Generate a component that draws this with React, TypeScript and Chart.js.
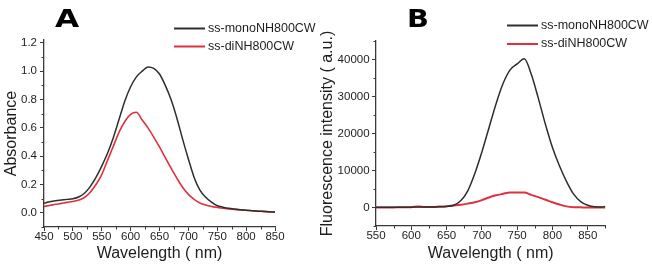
import { useEffect, useRef } from "react";
import { Chart, registerables } from "chart.js";

Chart.register(...registerables);

// ---------- data ----------
const seriesLabels = ["ss-monoNH800CW", "ss-diNH800CW"];

const wavelengthsA = [
  450, 460, 470, 480, 490, 500, 510, 520, 530, 540, 550, 560, 570, 580, 590, 600, 610, 620, 630, 640,
  650, 660, 670, 680, 690, 700, 710, 720, 730, 740, 750, 760, 770, 780, 790, 800, 810, 820, 830, 840, 850,
];
const absorbanceMono = [
  0.068, 0.078, 0.085, 0.09, 0.095, 0.1, 0.112, 0.138, 0.185, 0.25, 0.33, 0.42, 0.53, 0.66, 0.79, 0.89,
  0.96, 1.0, 1.03, 1.02, 0.98, 0.9, 0.8, 0.67, 0.52, 0.38, 0.25, 0.16, 0.11, 0.075, 0.05, 0.04, 0.032,
  0.027, 0.022, 0.018, 0.015, 0.012, 0.01, 0.008, 0.005,
];
const absorbanceDi = [
  0.045, 0.052, 0.06, 0.067, 0.074, 0.08, 0.09, 0.108, 0.145, 0.2, 0.27, 0.37, 0.47, 0.57, 0.645, 0.695,
  0.71, 0.655, 0.6, 0.535, 0.465, 0.39, 0.315, 0.245, 0.18, 0.13, 0.095, 0.07, 0.055, 0.045, 0.038,
  0.032, 0.028, 0.024, 0.02, 0.018, 0.015, 0.012, 0.01, 0.007, 0.005,
];

const wavelengthsB = [
  550, 560, 570, 580, 590, 600, 610, 620, 630, 640, 650, 660, 670, 680, 690, 700, 710, 720, 730, 740,
  750, 760, 770, 780, 790, 800, 810, 820, 830, 840, 850, 860, 870, 875,
];
const fluorescenceMono = [
  50, 50, 50, 50, 80, 100, 150, 150, 150, 200, 300, 600, 1800, 4500, 9200, 15000, 21500, 28000, 33500,
  37200, 38800, 40200, 36000, 29500, 22500, 16200, 11200, 7000, 3600, 1600, 600, 200, 150, 300,
];
const fluorescenceDi = [
  0, 0, 0, 50, 50, 100, 250, 150, 150, 250, 350, 550, 750, 1050, 1400, 2000, 2700, 3300, 3700, 4050,
  4050, 4050, 3400, 2800, 2100, 1400, 800, 300, 100, 50, 0, 0, 0, 0,
];

const xTicksA = [450, 500, 550, 600, 650, 700, 750, 800, 850];
const yTicksA = [0, 0.2, 0.4, 0.6, 0.8, 1.0, 1.2];
const xTicksB = [550, 600, 650, 700, 750, 800, 850];
const yTicksB = [0, 10000, 20000, 30000, 40000];

// ---------- style ----------
const FONT = '"Liberation Sans", Arial, sans-serif';
const BLACK = "#2e2e2e";
const RED = "#e0303f";
const AXIS = "#3a3a3a";
const TEXT = "#1e1e1e";

// ---------- plugins ----------
const minorTicksPlugin = {
  id: "minorTicks",
  afterDraw(chart: any, _args: any, opts: any) {
    const { ctx, chartArea } = chart;
    ctx.save();
    ctx.strokeStyle = opts.color;
    ctx.lineWidth = 1;
    ["x", "y"].forEach((id) => {
      const s = chart.scales[id];
      const vals = s.ticks.map((t: any) => t.value);
      if (vals.length < 2) return;
      const step = vals[1] - vals[0];
      const eps = step * 1e-6;
      for (let k = -1; k < vals.length + 1; k++) {
        const v = vals[0] + step * k + step / 2;
        if (v < s.min - eps || v > s.max + eps) continue;
        const p = Math.round(s.getPixelForValue(v)) + 0.5;
        ctx.beginPath();
        if (id === "x") {
          ctx.moveTo(p, chartArea.bottom);
          ctx.lineTo(p, chartArea.bottom + opts.length);
        } else {
          ctx.moveTo(chartArea.left, p);
          ctx.lineTo(chartArea.left - opts.length, p);
        }
        ctx.stroke();
      }
    });
    ctx.restore();
  },
};

const lineLegendPlugin = {
  id: "lineLegend",
  afterDraw(chart: any, _args: any, opts: any) {
    const { ctx } = chart;
    ctx.save();
    ctx.font = `${opts.fontSize}px ${FONT}`;
    ctx.textBaseline = "middle";
    ctx.textAlign = "left";
    chart.data.datasets.forEach((ds: any, i: number) => {
      const y = opts.y + i * opts.rowGap;
      ctx.strokeStyle = ds.borderColor;
      ctx.lineWidth = opts.lineWidth;
      ctx.beginPath();
      ctx.moveTo(opts.x, y);
      ctx.lineTo(opts.x + opts.lineLength, y);
      ctx.stroke();
      ctx.fillStyle = TEXT;
      ctx.fillText(ds.label, opts.x + opts.lineLength + opts.gap, y);
    });
    ctx.restore();
  },
};

const panelLetterPlugin = {
  id: "panelLetter",
  afterDraw(chart: any, _args: any, opts: any) {
    const { ctx } = chart;
    ctx.save();
    ctx.font = `bold ${opts.size}px "DejaVu Sans", ${FONT}`;
    ctx.fillStyle = "#000";
    ctx.textBaseline = "alphabetic";
    ctx.translate(opts.x, opts.y);
    ctx.scale(opts.stretch, 1);
    ctx.fillText(opts.text, 0, 0);
    ctx.restore();
  },
};

function axisCommon() {
  return {
    grid: {
      display: true,
      drawOnChartArea: false,
      drawTicks: true,
      tickLength: 4,
      color: AXIS,
      lineWidth: 1,
    },
    border: { display: true, color: AXIS, width: 1.3 },
  };
}

function makeConfig(p: {
  xs: number[];
  mono: number[];
  di: number[];
  xMin: number;
  xMax: number;
  yMin: number;
  yMax: number;
  xTicks: number[];
  yTicks: number[];
  yFmt: (v: number) => string;
  yTitle: string;
  yTitlePad: number;
  yWidth: number;
  xHeight: number;
  padTop: number;
  padRight: number;
  yTickPad: number;
  diWidth: number;
  legend: any;
  letter: any;
}) {
  const tickFont = { family: FONT, size: 11.5, lineHeight: 1 };
  const titleFont = { family: FONT, size: 16, lineHeight: 1.2 };
  return {
    type: "line" as const,
    data: {
      datasets: [
        {
          label: seriesLabels[0],
          data: p.xs.map((x, i) => ({ x, y: p.mono[i] })),
          borderColor: BLACK,
          borderWidth: 1.5,
          pointRadius: 0,
          cubicInterpolationMode: "monotone" as const,
          fill: false,
        },
        {
          label: seriesLabels[1],
          data: p.xs.map((x, i) => ({ x, y: p.di[i] })),
          borderColor: RED,
          borderWidth: p.diWidth,
          pointRadius: 0,
          cubicInterpolationMode: "monotone" as const,
          fill: false,
        },
      ],
    },
    options: {
      animation: false as const,
      responsive: false,
      events: [],
      layout: { padding: { left: 0, right: p.padRight, top: p.padTop, bottom: 0 } },
      plugins: {
        legend: { display: false },
        tooltip: { enabled: false },
        lineLegend: p.legend,
        panelLetter: p.letter,
        minorTicks: { color: AXIS, length: 2.5 },
      },
      scales: {
        x: {
          type: "linear" as const,
          min: p.xMin,
          max: p.xMax,
          ...axisCommon(),
          afterBuildTicks: (s: any) => {
            s.ticks = p.xTicks.map((value) => ({ value }));
          },
          afterFit: (s: any) => {
            s.height = p.xHeight;
          },
          ticks: {
            font: tickFont,
            color: TEXT,
            padding: 0,
            maxRotation: 0,
            autoSkip: false,
            callback: (v: any) => String(v),
          },
          title: {
            display: true,
            text: "Wavelength ( nm)",
            font: titleFont,
            color: TEXT,
            padding: { top: 0, bottom: 4 },
          },
        },
        y: {
          type: "linear" as const,
          min: p.yMin,
          max: p.yMax,
          ...axisCommon(),
          afterBuildTicks: (s: any) => {
            s.ticks = p.yTicks.map((value) => ({ value }));
          },
          afterFit: (s: any) => {
            s.width = p.yWidth;
          },
          ticks: {
            font: tickFont,
            color: TEXT,
            padding: p.yTickPad,
            autoSkip: false,
            callback: (v: any) => p.yFmt(Number(v)),
          },
          title: {
            display: true,
            text: p.yTitle,
            font: titleFont,
            color: TEXT,
            padding: { top: p.yTitlePad, bottom: 0 },
          },
        },
      },
    },
    plugins: [minorTicksPlugin, lineLegendPlugin, panelLetterPlugin],
  };
}

function Panel(props: { width: number; left: number; config: any }) {
  const ref = useRef<HTMLCanvasElement | null>(null);
  useEffect(() => {
    if (!ref.current) return;
    const chart = new Chart(ref.current, props.config);
    return () => chart.destroy();
  }, []);
  return (
    <div style={{ position: "absolute", left: props.left, top: 0, width: props.width, height: 267 }}>
      <canvas ref={ref} width={props.width} height={267} style={{ width: props.width, height: 267, display: "block" }} />
    </div>
  );
}

export default function App() {
  const configA = makeConfig({
    xs: wavelengthsA,
    mono: absorbanceMono,
    di: absorbanceDi,
    xMin: 450,
    xMax: 850,
    yMin: -0.1,
    yMax: 1.22,
    xTicks: xTicksA,
    yTicks: yTicksA,
    yFmt: (v) => v.toFixed(1),
    yTitle: "Absorbance",
    yTitlePad: 1.7,
    yWidth: 44,
    xHeight: 40,
    padTop: 40,
    padRight: 43,
    yTickPad: 3,
    diWidth: 1.6,
    legend: { x: 174, y: 28.5, rowGap: 18, lineLength: 31, gap: 3, fontSize: 12.5, lineWidth: 2 },
    letter: { text: "A", x: 55, y: 27, size: 24, stretch: 1.3 },
  });
  const configB = makeConfig({
    xs: wavelengthsB,
    mono: fluorescenceMono,
    di: fluorescenceDi,
    xMin: 550,
    xMax: 875,
    yMin: -5000,
    yMax: 45000,
    xTicks: xTicksB,
    yTicks: yTicksB,
    yFmt: (v) => String(v),
    yTitle: "Fluorescence intensity ( a.u.)",
    yTitlePad: 0.4,
    yWidth: 58,
    xHeight: 41,
    padTop: 41,
    padRight: 46.6,
    yTickPad: 2.4,
    diWidth: 2,
    legend: { x: 189, y: 25.5, rowGap: 18.5, lineLength: 31, gap: 3, fontSize: 12.5, lineWidth: 2 },
    letter: { text: "B", x: 89, y: 27, size: 24, stretch: 1.2 },
  });
  return (
    <div style={{ position: "absolute", left: 0, top: 0, width: 652, height: 267, background: "#fff" }}>
      <Panel width={318} left={0} config={configA} />
      <Panel width={334} left={318} config={configB} />
    </div>
  );
}
